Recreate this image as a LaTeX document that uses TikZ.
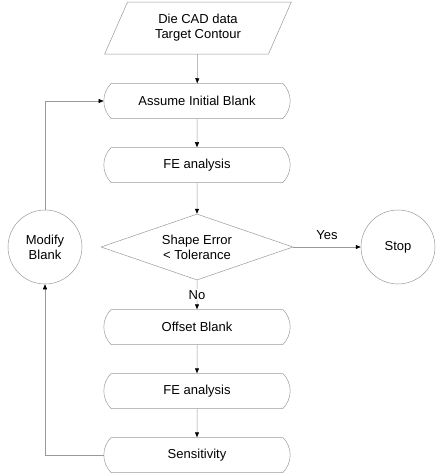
\documentclass[tikz,border=0pt]{standalone}
\usepackage{fontspec}
\setmainfont{Liberation Sans}
\usetikzlibrary{shapes.geometric,shapes.misc,arrows.meta}

\begin{document}
\begin{tikzpicture}[x=1pt, y=-1pt, ->, >={Triangle[length=5pt,width=4pt,color=black]},
    line width=0.5pt, color=black!40, font=\fontsize{13}{15}\selectfont,
    every node/.style={text=black},
    main node/.style={rounded rectangle, rounded rectangle arc length=90, draw, minimum width=193pt, minimum height=35pt},
    data node/.style={trapezium, trapezium left angle=66, trapezium right angle=114, trapezium stretches=true, draw, minimum width=187pt, minimum height=52pt, align=center},
    test node/.style={diamond, draw, aspect=2.9, minimum width=192pt, minimum height=66pt, inner sep=0pt, align=center},
    round node/.style={circle, draw, minimum size=74pt, inner sep=0pt, align=center}]
    \useasboundingbox (0,0) rectangle (437,474);
        \node[data node](data) at (198,28) {Die CAD data\\Target Contour};
        \foreach \name/\y/\txt in {assume/101/Assume Initial Blank, fe1/165/FE analysis, offset/327/Offset Blank, fe2/391/FE analysis, sens/455/Sensitivity}
            \node[main node](\name) at (197,\y) {\txt};
        \node[test node](test) at (197,247) {Shape Error\\< Tolerance};
        \node[round node](stop) at (398,247) {Stop};
        \node[round node](modify) at (45,247) {Modify\\Blank};
        \draw (data) -- (assume);
        \draw (assume) -- (fe1);
        \draw (fe1) -- (test);
        \draw (test) -- node[fill=white, inner sep=1pt] {No} (offset);
        \draw (offset) -- (fe2);
        \draw (fe2) -- (sens);
        \draw (test) -- node[above=4pt] {Yes} (stop);
        \draw (sens) -| (modify);
        \draw (modify) |- (assume);
\end{tikzpicture}
\end{document}
